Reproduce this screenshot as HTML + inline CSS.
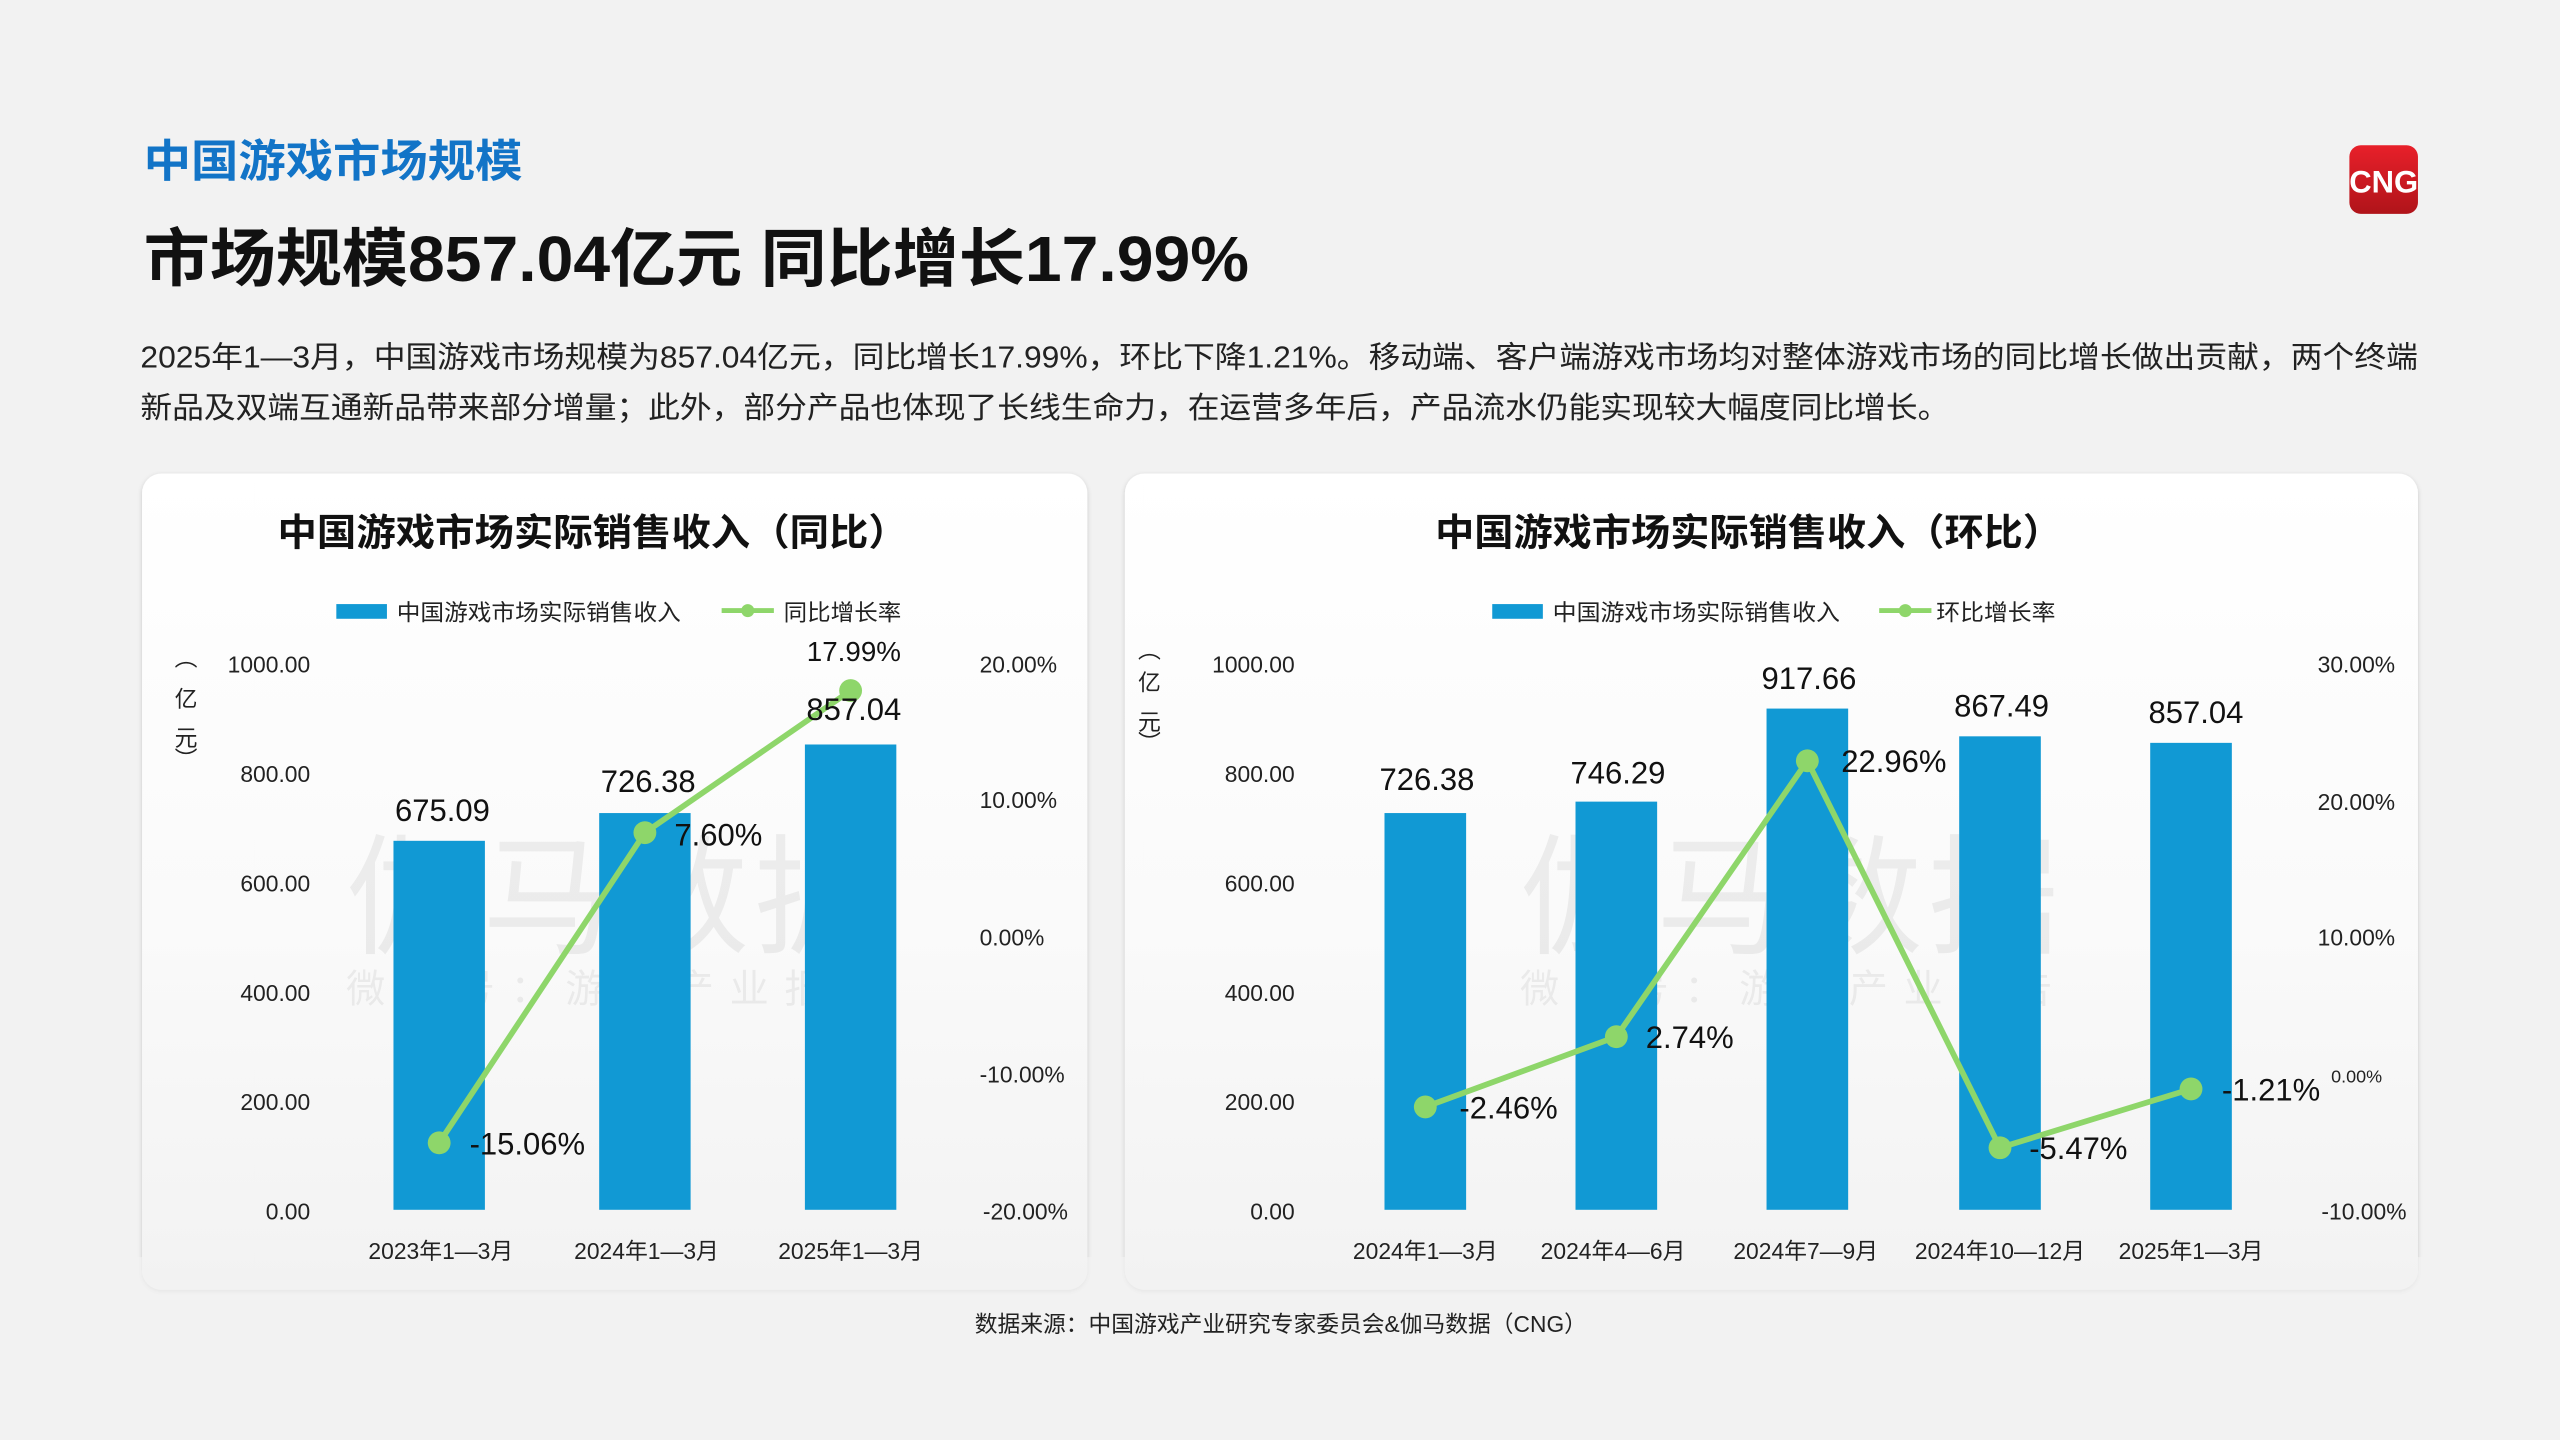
<!DOCTYPE html>
<html><head><meta charset="utf-8"><style>
html,body{margin:0;padding:0;background:#f2f2f2;}
svg{display:block;}
text{font-family:"Liberation Sans","Noto Sans CJK SC",sans-serif;}
</style></head><body>
<svg width="2560" height="1440" viewBox="0 0 1568 882" xmlns="http://www.w3.org/2000/svg">
<defs>
<linearGradient id="pg" x1="0" y1="0" x2="0" y2="1">
<stop offset="0" stop-color="#ffffff"/><stop offset="0.55" stop-color="#fafafa"/><stop offset="0.9" stop-color="#f4f4f4"/><stop offset="1" stop-color="#f2f2f2"/>
</linearGradient>
<linearGradient id="lg" x1="0" y1="0" x2="0" y2="1"><stop offset="0" stop-color="#e8202a"/><stop offset="1" stop-color="#b0141a"/></linearGradient>
<filter id="sh" x="-5%" y="-5%" width="110%" height="110%"><feDropShadow dx="0" dy="1" stdDeviation="1.5" flood-color="#000" flood-opacity="0.18"/></filter>
</defs>
<rect width="1568" height="882" fill="#f2f2f2"/>
<text x="88" y="108" font-size="27" font-weight="bold" fill="#1274c7" textLength="232" lengthAdjust="spacingAndGlyphs">中国游戏市场规模</text>
<text x="88" y="172" font-size="39" font-weight="bold" fill="#111" textLength="677" lengthAdjust="spacingAndGlyphs">市场规模857.04亿元 同比增长17.99%</text>
<rect x="1439" y="89" width="42" height="42" rx="7" fill="url(#lg)"/>
<text x="1460" y="118" font-size="19" font-weight="bold" fill="#fff" text-anchor="middle" font-family="Liberation Serif">CNG</text>
<text x="86" y="225" font-size="18.5" fill="#222" textLength="1395" lengthAdjust="spacingAndGlyphs">2025年1—3月，中国游戏市场规模为857.04亿元，同比增长17.99%，环比下降1.21%。移动端、客户端游戏市场均对整体游戏市场的同比增长做出贡献，两个终端</text>
<text x="86" y="256" font-size="18.5" fill="#222" textLength="1108" lengthAdjust="spacingAndGlyphs">新品及双端互通新品带来部分增量；此外，部分产品也体现了长线生命力，在运营多年后，产品流水仍能实现较大幅度同比增长。</text>

<!-- left panel -->
<rect x="87" y="290" width="579" height="500" rx="12" fill="url(#pg)" filter="url(#sh)"/>
<rect x="80" y="770" width="600" height="30" fill="#f2f2f2" opacity="0.7"/>
<text x="170" y="334" font-size="23" font-weight="bold" fill="#111" textLength="386" lengthAdjust="spacingAndGlyphs">中国游戏市场实际销售收入（同比）</text>
<rect x="206" y="370" width="31" height="9" fill="#1199d4"/>
<text x="243" y="380" font-size="14" fill="#222" textLength="174" lengthAdjust="spacingAndGlyphs">中国游戏市场实际销售收入</text>
<line x1="442" y1="374" x2="474" y2="374" stroke="#8ed66a" stroke-width="3"/><circle cx="458" cy="374" r="4" fill="#8ed66a"/>
<text x="480" y="380" font-size="14" fill="#222" textLength="72" lengthAdjust="spacingAndGlyphs">同比增长率</text>
<g font-size="14" fill="#222" text-anchor="end">
<text x="190" y="412">1000.00</text><text x="190" y="479">800.00</text><text x="190" y="546">600.00</text><text x="190" y="613">400.00</text><text x="190" y="680">200.00</text><text x="190" y="747">0.00</text>
</g>
<g font-size="14" fill="#222">
<text x="600" y="412">20.00%</text><text x="600" y="495">10.00%</text><text x="600" y="579">0.00%</text><text x="600" y="663">-10.00%</text><text x="602" y="747">-20.00%</text>
</g>
<g font-size="14" fill="#222" text-anchor="middle"><text x="114" y="408">︵</text><text x="114" y="433">亿</text><text x="114" y="457">元</text><text x="114" y="470">︶</text></g>
<text x="212" y="578" font-size="80" fill="#000" fill-opacity="0.06" textLength="330" lengthAdjust="spacing">伽马数据</text>
<text x="212" y="614" font-size="24" fill="#000" fill-opacity="0.06" textLength="326" lengthAdjust="spacing">微信号：游戏产业报告</text>
<rect x="241" y="515" width="56" height="226" fill="#1199d4"/>
<rect x="367" y="498" width="56" height="243" fill="#1199d4"/>
<rect x="493" y="456" width="56" height="285" fill="#1199d4"/>
<polyline points="269,700 395,510 521,423" fill="none" stroke="#8ed66a" stroke-width="3.5"/>
<circle cx="269" cy="700" r="7" fill="#8ed66a"/><circle cx="395" cy="510" r="7" fill="#8ed66a"/><circle cx="521" cy="423" r="7" fill="#8ed66a"/>
<g font-size="19" fill="#111" text-anchor="middle">
<text x="271" y="503">675.09</text><text x="397" y="485">726.38</text><text x="523" y="441">857.04</text>
<text x="523" y="405" font-size="17">17.99%</text>
<text x="440" y="518">7.60%</text><text x="323" y="707">-15.06%</text>
</g>
<g font-size="14" fill="#222" text-anchor="middle"><text x="270" y="771">2023年1—3月</text><text x="396" y="771">2024年1—3月</text><text x="521" y="771">2025年1—3月</text></g>

<!-- right panel -->
<rect x="689" y="290" width="792" height="500" rx="12" fill="url(#pg)" filter="url(#sh)"/>
<rect x="682" y="770" width="806" height="30" fill="#f2f2f2" opacity="0.7"/>
<text x="879" y="334" font-size="23" font-weight="bold" fill="#111" textLength="384" lengthAdjust="spacingAndGlyphs">中国游戏市场实际销售收入（环比）</text>
<rect x="914" y="370" width="31" height="9" fill="#1199d4"/>
<text x="951" y="380" font-size="14" fill="#222" textLength="176" lengthAdjust="spacingAndGlyphs">中国游戏市场实际销售收入</text>
<line x1="1151" y1="374" x2="1183" y2="374" stroke="#8ed66a" stroke-width="3"/><circle cx="1167" cy="374" r="4" fill="#8ed66a"/>
<text x="1186" y="380" font-size="14" fill="#222" textLength="73" lengthAdjust="spacingAndGlyphs">环比增长率</text>
<g font-size="14" fill="#222" text-anchor="end">
<text x="793" y="412">1000.00</text><text x="793" y="479">800.00</text><text x="793" y="546">600.00</text><text x="793" y="613">400.00</text><text x="793" y="680">200.00</text><text x="793" y="747">0.00</text>
</g>
<g font-size="14" fill="#222" text-anchor="end">
<text x="1467" y="412">30.00%</text><text x="1467" y="496">20.00%</text><text x="1467" y="579">10.00%</text><text x="1459" y="663" font-size="11">0.00%</text><text x="1474" y="747">-10.00%</text>
</g>
<g font-size="14" fill="#222" text-anchor="middle"><text x="704" y="403">︵</text><text x="704" y="423">亿</text><text x="704" y="447">元</text><text x="704" y="460">︶</text></g>
<text x="931" y="578" font-size="80" fill="#000" fill-opacity="0.06" textLength="330" lengthAdjust="spacing">伽马数据</text>
<text x="931" y="614" font-size="24" fill="#000" fill-opacity="0.06" textLength="326" lengthAdjust="spacing">微信号：游戏产业报告</text>
<rect x="848" y="498" width="50" height="243" fill="#1199d4"/>
<rect x="965" y="491" width="50" height="250" fill="#1199d4"/>
<rect x="1082" y="434" width="50" height="307" fill="#1199d4"/>
<rect x="1200" y="451" width="50" height="290" fill="#1199d4"/>
<rect x="1317" y="455" width="50" height="286" fill="#1199d4"/>
<polyline points="873,678 990,635 1107,466 1225,703 1342,667" fill="none" stroke="#8ed66a" stroke-width="3.5"/>
<circle cx="873" cy="678" r="7" fill="#8ed66a"/><circle cx="990" cy="635" r="7" fill="#8ed66a"/><circle cx="1107" cy="466" r="7" fill="#8ed66a"/><circle cx="1225" cy="703" r="7" fill="#8ed66a"/><circle cx="1342" cy="667" r="7" fill="#8ed66a"/>
<g font-size="19" fill="#111" text-anchor="middle">
<text x="874" y="484">726.38</text><text x="991" y="480">746.29</text><text x="1108" y="422">917.66</text><text x="1226" y="439">867.49</text><text x="1345" y="443">857.04</text>
<text x="924" y="685">-2.46%</text><text x="1035" y="642">2.74%</text><text x="1160" y="473">22.96%</text><text x="1273" y="710">-5.47%</text><text x="1391" y="674">-1.21%</text>
</g>
<g font-size="14" fill="#222" text-anchor="middle"><text x="873" y="771">2024年1—3月</text><text x="988" y="771">2024年4—6月</text><text x="1106" y="771">2024年7—9月</text><text x="1225" y="771">2024年10—12月</text><text x="1342" y="771">2025年1—3月</text></g>

<text x="597" y="816" font-size="14" fill="#222" textLength="375" lengthAdjust="spacingAndGlyphs">数据来源：中国游戏产业研究专家委员会&amp;伽马数据（CNG）</text>
</svg>
</body></html>
